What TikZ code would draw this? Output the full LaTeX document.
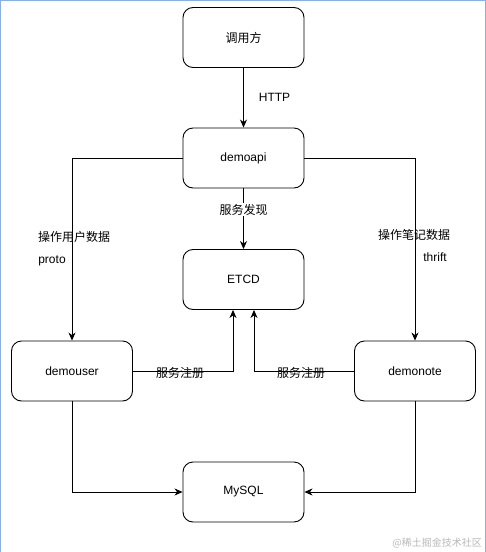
\documentclass[tikz,border=0pt]{standalone}
\usepackage{fontspec}
\setmainfont{Liberation Sans}
\newfontfamily\cjk{Noto Sans CJK SC}
\usetikzlibrary{arrows.meta}
\tikzset{
  box/.style={draw, line width=0.9pt, rounded corners=10pt, minimum width=121pt, minimum height=60pt, inner sep=0pt, font=\fontsize{12}{14}\selectfont},
  conn/.style={line width=0.8pt, -{Stealth[length=8pt,width=7pt,inset=2.5pt]}},
  lbl/.style={font=\cjk\fontsize{12}{14}\selectfont, inner sep=1pt},
  llbl/.style={font=\fontsize{12}{14}\selectfont, inner sep=1pt}
}
\begin{document}
\begin{tikzpicture}[x=1pt,y=-1pt]
\useasboundingbox (0,0) rectangle (486,552);
\fill[white] (0,0) rectangle (486,552);
\draw[color={rgb,255:red,140;green,175;blue,225}, line width=1.2pt] (0.6,552) -- (0.6,0.6) -- (485.4,0.6) -- (485.4,552);

\node[box] (caller) at (243.5,37.5) {\cjk 调用方};
\node[box] (api) at (243.5,158) {demoapi};
\node[box] (etcd) at (243.5,279.5) {ETCD};
\node[box] (user) at (72,371) {demouser};
\node[box] (note) at (415,371) {demonote};
\node[box] (mysql) at (243.5,492) {MySQL};

\draw[conn] (caller) -- node[llbl, right=14pt, pos=0.5] {HTTP} (api);
\draw[conn] (api) -- node[lbl, fill=white, pos=0.35] {服务发现} (etcd);

\coordinate (ul) at (72,158);
\coordinate (ur) at (415,158);
\draw[conn] (api.west) -- (ul) -- (user.north);
\draw[conn] (api.east) -- (ur) -- (note.north);
\node[lbl] (l1) at (74,237) {操作用户数据};
\node[llbl] (l2) at (52,261) {proto};
\node[lbl] (r1) at (414,235) {操作笔记数据};
\node[llbl] (r2) at (435,257) {thrift};

\coordinate (ue) at (233,371);
\coordinate (ne) at (254,371);
\draw[conn] (user.east) -- (ue) -- (ue |- etcd.south);
\draw[conn] (note.west) -- (ne) -- (ne |- etcd.south);
\node[lbl] (s1) at (180,373) {服务注册};
\node[lbl] (s2) at (301,373) {服务注册};

\coordinate (ub) at (72,492);
\coordinate (nb) at (415,492);
\draw[conn] (user.south) -- (ub) -- (mysql.west);
\draw[conn] (note.south) -- (nb) -- (mysql.east);

\node[font=\cjk\fontsize{10}{12}\selectfont, text={rgb,255:red,185;green,185;blue,185}, anchor=east, inner sep=0pt] (wm) at (482,543) {@稀土掘金技术社区};
\end{tikzpicture}
\end{document}
